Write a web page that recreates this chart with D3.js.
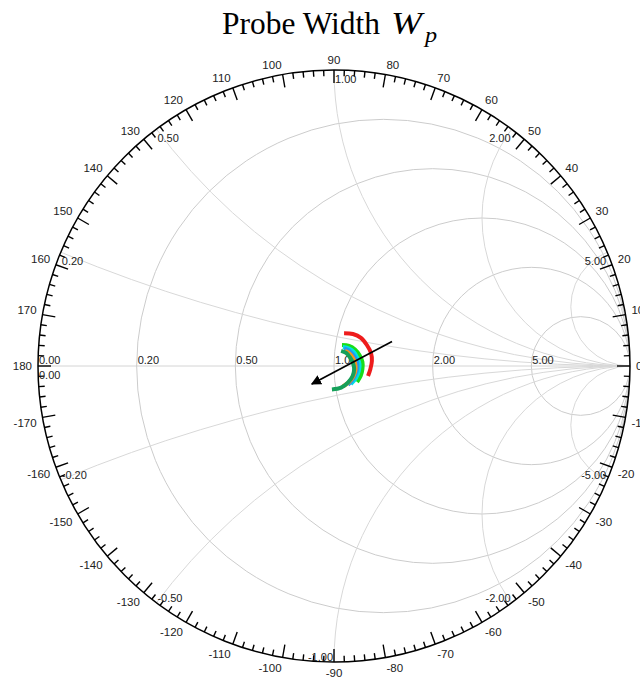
<!DOCTYPE html>
<html>
<head>
<meta charset="utf-8">
<script src="https://cdn.jsdelivr.net/npm/d3@7"></script>
<style>
  body { margin: 0; background: #ffffff; }
  svg { display: block; }
</style>
</head>
<body>
<svg id="chart" width="640" height="681"></svg>
<script>
// Smith chart grid values (normalised impedance)
const resistanceValues = [0, 0.2, 0.5, 1, 2, 5];
const reactanceValues = [0.2, 0.5, 1, 2, 5];
const reactanceLabelValues = [0, 0.2, 0.5, 1, 2, 5, -0.2, -0.5, -1, -2, -5];
// Angle ring: labelled every 10 degrees, ticked every 2 degrees
const angleLabels = d3.range(-170, 181, 10);
const angleTicks = d3.range(-178, 181, 2);

// Reflection coefficient S11 (real, imaginary) for each probe width
const seriesNames = ["Wp1", "Wp2", "Wp3", "Wp4", "Wp5", "Wp6"];
const seriesColors = ["#ee1c1c", "#19dd19", "#00e2e2", "#2196f3", "#f7941d", "#15a05a"];
const s11Wp1 = [[0.034, 0.111], [0.064, 0.108], [0.091, 0.095], [0.111, 0.071], [0.125, 0.044], [0.128, 0.017], [0.123, -0.010], [0.115, -0.034]];
const s11Wp2 = [[0.027, 0.071], [0.051, 0.068], [0.071, 0.056], [0.086, 0.037], [0.096, 0.014], [0.096, -0.010], [0.090, -0.034], [0.078, -0.054]];
const s11Wp3 = [[0.030, 0.064], [0.051, 0.059], [0.068, 0.046], [0.079, 0.027], [0.086, 0.007], [0.084, -0.017], [0.074, -0.041], [0.057, -0.061]];
const s11Wp4 = [[0.034, 0.059], [0.051, 0.052], [0.064, 0.039], [0.074, 0.022], [0.079, 0.003], [0.076, -0.020], [0.064, -0.044], [0.047, -0.064]];
const s11Wp5 = [[0.037, 0.051], [0.052, 0.042], [0.064, 0.027], [0.071, 0.010], [0.073, -0.010], [0.066, -0.034], [0.051, -0.054], [0.030, -0.069]];
const s11Wp6 = [[0.024, 0.051], [0.041, 0.044], [0.054, 0.029], [0.064, 0.010], [0.068, -0.010], [0.063, -0.034], [0.047, -0.056], [0.024, -0.073], [-0.007, -0.079]];
const seriesData = [s11Wp1, s11Wp2, s11Wp3, s11Wp4, s11Wp5, s11Wp6];

// Trend arrow (increasing probe width), in S11 coordinates
const arrowFrom = [0.196, 0.083];
const arrowTo = [-0.075, -0.061];

const svg = d3.select("#chart");
const cx = 334, cy = 366, R = 296;

const x = d3.scaleLinear().domain([-1, 1]).range([cx - R, cx + R]);
const y = d3.scaleLinear().domain([-1, 1]).range([cy + R, cy - R]);
const k = x(1) - x(0); // pixels per unit of |S11|

// Title
const titleFont = "'Liberation Serif', 'DejaVu Serif', serif";
svg.append("text")
  .attr("x", 222).attr("y", 34)
  .attr("font-family", titleFont).attr("font-size", 31)
  .attr("textLength", 158).attr("lengthAdjust", "spacingAndGlyphs")
  .text("Probe Width");
svg.append("text")
  .attr("transform", "translate(391,34) scale(1.2,1)")
  .attr("font-family", titleFont).attr("font-size", 31).attr("font-style", "italic")
  .text("W");
svg.append("text")
  .attr("transform", "translate(425,42) scale(1.1,1)")
  .attr("font-family", titleFont).attr("font-size", 22).attr("font-style", "italic")
  .text("p");

// Clip region: unit circle
svg.append("defs").append("clipPath").attr("id", "unit")
  .append("circle").attr("cx", x(0)).attr("cy", y(0)).attr("r", k);

const grid = svg.append("g").attr("clip-path", "url(#unit)");

// Real axis
grid.append("line")
  .attr("x1", x(-1)).attr("x2", x(1)).attr("y1", y(0)).attr("y2", y(0))
  .attr("stroke", "#d4d4d4").attr("stroke-width", 1);

// Constant-resistance circles
grid.selectAll("circle.res")
  .data(resistanceValues.filter(r => r > 0))
  .join("circle").attr("class", "res")
  .attr("cx", r => x(r / (r + 1)))
  .attr("cy", y(0))
  .attr("r", r => k / (r + 1))
  .attr("fill", "none").attr("stroke", "#cccccc").attr("stroke-width", 1);

// Constant-reactance arcs
grid.selectAll("circle.rea")
  .data(reactanceValues.flatMap(v => [v, -v]))
  .join("circle").attr("class", "rea")
  .attr("cx", x(1))
  .attr("cy", v => y(1 / v))
  .attr("r", v => k / Math.abs(v))
  .attr("fill", "none").attr("stroke", "#d8d8d8").attr("stroke-width", 1);

// Outer ring
svg.append("circle")
  .attr("cx", x(0)).attr("cy", y(0)).attr("r", k)
  .attr("fill", "none").attr("stroke", "#000").attr("stroke-width", 1.5);

// Angle ticks (inward)
const rad = d => d * Math.PI / 180;
const tickLen = d => d % 10 === 0 ? 13 : 6;
svg.append("g").selectAll("line")
  .data(angleTicks)
  .join("line")
  .attr("x1", d => x(Math.cos(rad(d))))
  .attr("y1", d => y(Math.sin(rad(d))))
  .attr("x2", d => x(Math.cos(rad(d))) - tickLen(d) * Math.cos(rad(d)))
  .attr("y2", d => y(Math.sin(rad(d))) + tickLen(d) * Math.sin(rad(d)))
  .attr("stroke", "#000").attr("stroke-width", 1.4);

// Angle labels
const labelFont = "'Liberation Sans', Arial, sans-serif";
svg.append("g").selectAll("text")
  .data(angleLabels)
  .join("text")
  .attr("x", d => x(Math.cos(rad(d))) + 6 * Math.cos(rad(d)))
  .attr("y", d => y(Math.sin(rad(d))) - 6 * Math.sin(rad(d)))
  .attr("text-anchor", d => { const c = Math.cos(rad(d)); return c < -0.01 ? "end" : c > 0.01 ? "start" : "middle"; })
  .attr("dy", d => { const s = Math.sin(rad(d)); return s > 0.01 ? "0" : s < -0.01 ? "0.75em" : "0.35em"; })
  .attr("font-family", labelFont).attr("font-size", 11.5).attr("fill", "#222")
  .text(d => d);

// Resistance labels along the real axis
svg.append("g").selectAll("text")
  .data(resistanceValues)
  .join("text")
  .attr("x", r => x((r - 1) / (r + 1)) + 1)
  .attr("y", y(0) - 2)
  .attr("font-family", labelFont).attr("font-size", 11).attr("fill", "#222")
  .text(r => r.toFixed(2));

// Reactance labels on the outer ring
svg.append("g").selectAll("text")
  .data(reactanceLabelValues)
  .join("text")
  .each(function (v) {
    let ang = Math.PI - 2 * Math.atan(v);
    if (ang > Math.PI + 1e-9) ang -= 2 * Math.PI;
    const gx = Math.cos(ang), gy = Math.sin(ang);
    const pos = v >= 0;
    const deg = Math.abs(ang * 180 / Math.PI);
    const anchor = pos ? (deg >= 89.99 ? "start" : "end") : (deg > 90.01 ? "start" : "end");
    d3.select(this)
      .attr("x", x(gx) + (anchor === "start" ? 1 : -1))
      .attr("y", y(gy) + (pos ? 13 : -1))
      .attr("text-anchor", anchor);
  })
  .attr("font-family", labelFont).attr("font-size", 11).attr("fill", "#222")
  .text(v => v.toFixed(2));

// S11 traces
const line = d3.line()
  .x(d => x(d[0])).y(d => y(d[1]))
  .curve(d3.curveCatmullRom.alpha(0.5));

svg.append("g").selectAll("path")
  .data(seriesData)
  .join("path")
  .attr("d", line)
  .attr("fill", "none")
  .attr("stroke", (d, i) => seriesColors[i])
  .attr("stroke-width", 4);

// Trend arrow
svg.append("defs").append("marker")
  .attr("id", "head").attr("viewBox", "0 0 10 10")
  .attr("refX", 9).attr("refY", 5)
  .attr("markerWidth", 6).attr("markerHeight", 6)
  .attr("orient", "auto")
  .append("path").attr("d", "M0,0 L10,5 L0,10 z").attr("fill", "#000");

svg.append("line")
  .attr("x1", x(arrowFrom[0])).attr("y1", y(arrowFrom[1]))
  .attr("x2", x(arrowTo[0])).attr("y2", y(arrowTo[1]))
  .attr("stroke", "#000").attr("stroke-width", 1.7)
  .attr("marker-end", "url(#head)");
</script>
</body>
</html>
